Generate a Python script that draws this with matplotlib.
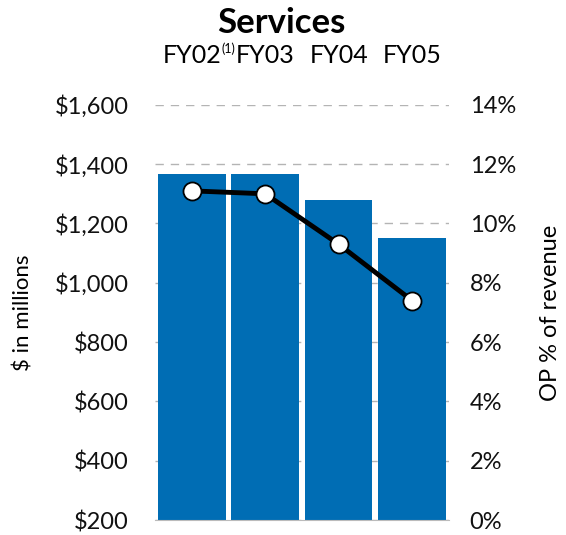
import matplotlib.pyplot as plt
import numpy as np

# data
years = ["FY02", "FY03", "FY04", "FY05"]
revenue = [1367, 1367, 1280, 1152]      # $ in millions
op_pct = [11.1, 11.0, 9.3, 7.4]          # OP % of revenue

plt.rcParams['font.family'] = ['Lato', 'DejaVu Sans']

fig = plt.figure(figsize=(5.66, 5.35), dpi=100)
ax = fig.add_axes([0.274, 0.028, 0.519, 0.776])
x = np.arange(len(years))

ax.bar(x, np.array(revenue) - 200, bottom=200, width=0.92, color="#006DB4", zorder=2)
ax.set_ylim(200, 1600)
ax.set_xlim(-0.5, 3.5)
ax.set_yticks(range(200, 1601, 200))
ax.set_yticklabels(["${:,}".format(v) for v in range(200, 1601, 200)], fontsize=17)
ax.yaxis.grid(True, color="#b4b4b4", linestyle=(0, (6, 5)), linewidth=1, zorder=0)
ax.set_axisbelow(True)
ax.tick_params(axis="y", length=0, pad=19, colors="#111111")
for s in ["top", "left", "right"]:
    ax.spines[s].set_visible(False)
ax.spines["bottom"].set_color("#bbbbbb")
ax.set_ylabel("$ in millions", fontsize=16)
ax.yaxis.set_label_coords(-0.415, 0.5)

ax.xaxis.tick_top()
ax.set_xticks(x)
ax.set_xticklabels(years, fontsize=18)
ax.tick_params(axis="x", length=0, pad=27)

# footnote marker next to FY02
ax.text(0.495, 1.136, "(1)", transform=ax.get_xaxis_transform(), fontsize=9,
        ha="center", va="center")

ax2 = ax.twinx()
ax2.plot(x, op_pct, color="black", linewidth=3.5, marker="o", markersize=13,
         markerfacecolor="white", markeredgecolor="black", markeredgewidth=1.3, zorder=3)
ax2.set_ylim(0, 14)
ax2.set_yticks(range(0, 15, 2))
ax2.set_yticklabels(["{}%".format(v) for v in range(0, 15, 2)], fontsize=17)
ax2.tick_params(axis="y", length=0, pad=15, colors="#111111")
for s in ["top", "left", "right", "bottom"]:
    ax2.spines[s].set_visible(False)
ax2.set_ylabel("OP % of revenue", fontsize=17)
ax2.yaxis.set_label_coords(1.31, 0.5)

fig.text(0.497, 0.957, "Services", fontsize=25, fontweight="bold", ha="center", va="center")

fig.savefig("out.png", dpi=100)
